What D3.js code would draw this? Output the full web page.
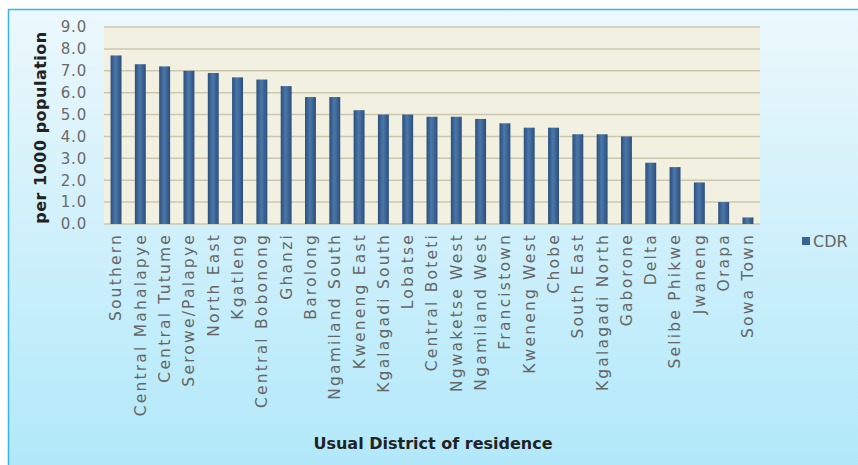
<!DOCTYPE html>
<html lang="en">
<head>
  <meta charset="utf-8">
  <title>CDR by district</title>
  <script src="https://cdn.jsdelivr.net/npm/d3@7"></script>
  <style type="text/css">
    body{ margin:0; background:#fff; }
    text{ font-family: "DejaVu Sans", sans-serif; }
  </style>
</head>
<body>
  <script type="text/javascript">

    var width = 858;
    var height = 465;

    // districts, sorted by crude death rate
    var districts = ["Southern", "Central Mahalapye", "Central Tutume", "Serowe/Palapye",
      "North East", "Kgatleng", "Central Bobonong", "Ghanzi", "Barolong", "Ngamiland South",
      "Kweneng East", "Kgalagadi South", "Lobatse", "Central Boteti", "Ngwaketse West",
      "Ngamiland West", "Francistown", "Kweneng West", "Chobe", "South East",
      "Kgalagadi North", "Gaborone", "Delta", "Selibe Phikwe", "Jwaneng", "Orapa", "Sowa Town"];
    var cdr = [7.7, 7.3, 7.2, 7.0, 6.9, 6.7, 6.6, 6.3, 5.8, 5.8, 5.2, 5.0, 5.0, 4.9, 4.9,
      4.8, 4.6, 4.4, 4.4, 4.1, 4.1, 4.0, 2.8, 2.6, 1.9, 1.0, 0.3];
    var yTicks = [0, 1, 2, 3, 4, 5, 6, 7, 8, 9];

    var plotLeft = 104, plotRight = 760, plotTop = 27, plotBottom = 224;

    var svg = d3.select("body")
      .append("svg")
      .attr("width", width)
      .attr("height", height);

    var defs = svg.append("defs");
    var bgGrad = defs.append("linearGradient")
      .attr("id", "bgGrad").attr("x1", 0).attr("y1", 0).attr("x2", 0).attr("y2", 1);
    bgGrad.append("stop").attr("offset", "0%").attr("stop-color", "#ecf8fc");
    bgGrad.append("stop").attr("offset", "100%").attr("stop-color", "#b0e8fa");

    var barGrad = defs.append("linearGradient")
      .attr("id", "barGrad").attr("x1", 0).attr("y1", 0).attr("x2", 1).attr("y2", 0);
    barGrad.append("stop").attr("offset", "0%").attr("stop-color", "#2c4f7c");
    barGrad.append("stop").attr("offset", "45%").attr("stop-color", "#4a77aa");
    barGrad.append("stop").attr("offset", "100%").attr("stop-color", "#2c4f7c");

    // frame
    svg.append("rect")
      .attr("x", 8.5).attr("y", 9.5)
      .attr("width", width).attr("height", height)
      .attr("fill", "url(#bgGrad)")
      .attr("stroke", "#3bb4e5")
      .attr("stroke-width", 1.5);

    var xScale = d3.scaleBand()
      .domain(districts)
      .range([plotLeft, plotRight])
      .paddingInner(0.55)
      .paddingOuter(0.27);

    var yScale = d3.scaleLinear()
      .domain([0, 9])
      .range([plotBottom, plotTop]);

    // plot area
    svg.append("rect")
      .attr("x", plotLeft).attr("y", plotTop)
      .attr("width", plotRight - plotLeft).attr("height", plotBottom - plotTop)
      .attr("fill", "#f2f0e0");

    svg.selectAll(".grid")
      .data(yTicks)
      .enter()
      .append("line")
      .attr("class", "grid")
      .attr("x1", plotLeft).attr("x2", plotRight)
      .attr("y1", function(d){ return yScale(d); })
      .attr("y2", function(d){ return yScale(d); })
      .attr("stroke", "#cbc7ae")
      .attr("stroke-width", 1.5);

    // y axis labels
    var yAxis = d3.axisLeft(yScale)
      .tickValues(yTicks)
      .tickFormat(d3.format(".1f"))
      .tickSize(0)
      .tickPadding(17);
    var yG = svg.append("g")
      .attr("transform", "translate(" + plotLeft + ",0)")
      .call(yAxis);
    yG.select(".domain").remove();
    yG.selectAll("text")
      .attr("fill", "#6a6a6a")
      .style("font-size", "15px")
      .style("letter-spacing", "0.8px");

    // bars
    svg.selectAll(".bar")
      .data(cdr)
      .enter()
      .append("rect")
      .attr("class", "bar")
      .attr("x", function(d, i){ return xScale(districts[i]); })
      .attr("width", xScale.bandwidth())
      .attr("y", function(d){ return yScale(d); })
      .attr("height", function(d){ return plotBottom - yScale(d); })
      .attr("fill", "url(#barGrad)");

    // x axis labels
    var xAxis = d3.axisBottom(xScale).tickSize(0).tickPadding(0);
    var xG = svg.append("g")
      .attr("transform", "translate(0," + plotBottom + ")")
      .call(xAxis);
    xG.select(".domain").remove();
    xG.selectAll("text")
      .attr("transform", "rotate(-90)")
      .attr("x", -9)
      .attr("y", 0)
      .attr("dy", "0.35em")
      .style("text-anchor", "end")
      .style("font-size", "15.5px")
      .style("letter-spacing", "2.2px")
      .attr("fill", "#666");

    // axis titles
    svg.append("text")
      .attr("transform", "translate(46," + ((plotTop + plotBottom) / 2 + 2) + ") rotate(-90)")
      .attr("text-anchor", "middle")
      .style("font-size", "16px")
      .style("font-weight", "bold")
      .style("letter-spacing", "0.5px")
      .attr("fill", "#222")
      .text("per 1000 population");

    svg.append("text")
      .attr("x", 433).attr("y", 449)
      .attr("text-anchor", "middle")
      .style("font-size", "16px")
      .style("font-weight", "bold")
      .attr("fill", "#222")
      .text("Usual District of residence");

    // legend
    svg.append("rect")
      .attr("x", 802).attr("y", 237)
      .attr("width", 8).attr("height", 8)
      .attr("fill", "#3a6498");
    svg.append("text")
      .attr("x", 813).attr("y", 247)
      .style("font-size", "16px")
      .attr("fill", "#666")
      .text("CDR");

  </script>
</body>
</html>
